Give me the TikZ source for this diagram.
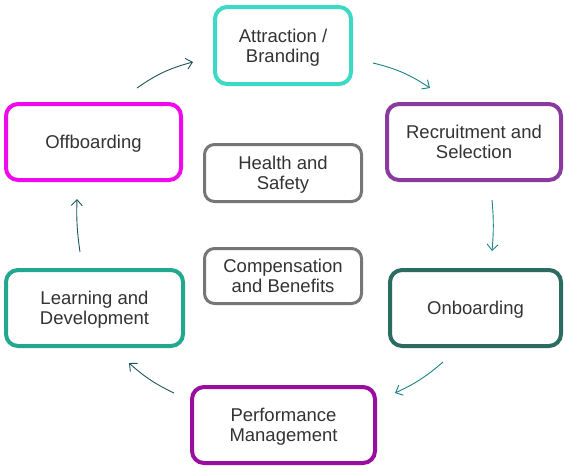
\documentclass[tikz,border=0pt]{standalone}
\usepackage{fontspec}
\setmainfont{Liberation Sans}
\usetikzlibrary{arrows.meta}
\definecolor{txt}{HTML}{333333}
\definecolor{cAtt}{HTML}{3DD9C5}
\definecolor{cRec}{HTML}{8A3A9E}
\definecolor{cOnb}{HTML}{2C6B60}
\definecolor{cPer}{HTML}{990E9E}
\definecolor{cLea}{HTML}{23A890}
\definecolor{cOff}{HTML}{F00AEB}
\definecolor{cGry}{HTML}{767676}
\definecolor{arD}{HTML}{1D5558}
\definecolor{arT}{HTML}{1B8286}
\newcommand\boxtxt[1]{\raisebox{-2.5pt}[\height][\depth]{\begin{tabular}{@{}c@{}}#1\end{tabular}}}
\tikzset{
  box/.style={draw, line width=4pt, rounded corners=12pt, fill=white, text=txt,
    align=center, inner sep=0pt, font=\fontsize{18.5}{20}\selectfont},
  gbox/.style={box, draw=cGry, line width=3pt, rounded corners=10pt},
  arr/.style={line width=0.9pt, -{Straight Barb[length=6pt,width=11pt]}},
}
\begin{document}
\begin{tikzpicture}[x=1pt,y=-1pt]
\useasboundingbox (0,0) rectangle (564,467);
\node[box, draw=cAtt, minimum width=136pt, minimum height=77pt] (att) at (283,45.5) {\boxtxt{Attraction /\\Branding}};
\node[box, draw=cRec, minimum width=174pt, minimum height=76pt] (rec) at (474,142) {\boxtxt{Recruitment and\\Selection}};
\node[box, draw=cOnb, minimum width=171pt, minimum height=76pt] (onb) at (475.5,308) {\boxtxt{Onboarding}};
\node[box, draw=cPer, minimum width=183pt, minimum height=76pt] (per) at (283.5,425) {\boxtxt{Performance\\Management}};
\node[box, draw=cLea, minimum width=177pt, minimum height=76pt] (lea) at (94.5,308) {\boxtxt{Learning and\\Development}};
\node[box, draw=cOff, minimum width=175pt, minimum height=76pt] (off) at (93.5,142) {\boxtxt{Offboarding}};
\node[gbox, minimum width=157pt, minimum height=57pt] (hs) at (283,173) {\boxtxt{Health and\\Safety}};
\node[gbox, minimum width=157pt, minimum height=55pt] (cb) at (283,276) {\boxtxt{Compensation\\and Benefits}};
\coordinate (a1s) at (137,88);  \coordinate (a1e) at (193,62);
\coordinate (a2s) at (373,63);  \coordinate (a2e) at (430,88);
\coordinate (a3s) at (492,200); \coordinate (a3e) at (492,251);
\coordinate (a4s) at (443,362); \coordinate (a4e) at (395,393);
\coordinate (a5s) at (174,393); \coordinate (a5e) at (129,363);
\coordinate (a6s) at (80,252);  \coordinate (a6e) at (77,199);
\draw[arr, draw=arD] (a1s) to[bend left=10] (a1e);
\draw[arr, draw=arT] (a2s) to[bend left=10] (a2e);
\draw[arr, draw=arT] (a3s) to[bend left=5] (a3e);
\draw[arr, draw=arT] (a4s) to[bend left=8] (a4e);
\draw[arr, draw=arD] (a5s) to[bend left=8] (a5e);
\draw[arr, draw=arD] (a6s) to[bend left=5] (a6e);
\end{tikzpicture}
\end{document}
